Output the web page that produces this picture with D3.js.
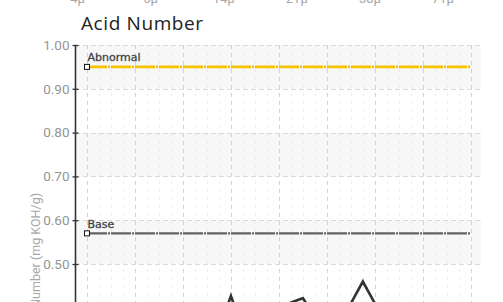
<!DOCTYPE html>
<html><head><meta charset="utf-8">
<script src="https://cdn.jsdelivr.net/npm/d3@7"></script>
<style>body{margin:0;background:#fff;overflow:hidden}svg{display:block}</style>
</head><body>
<svg id="c" width="503" height="302"></svg>
<script>
// Data
const prevChartLabels = ["4μ","6μ","14μ","21μ","38μ","71μ"];
const chartTitle = "Acid Number";
const yAxisTitle = "Acid Number (mg KOH/g)";
const yTicks = [1.00,0.90,0.80,0.70,0.60,0.50,0.40,0.30];
const sampleIndex = [0,1,2,3,4,5,6,7,8,9,10,11,12,13,14,15,16,17,18,19,20,21,22,23,24,25,26,27,28,29,30,31,32];
const acidValues = [0.33,0.31,0.34,0.32,0.30,0.33,0.35,0.32,0.34,0.31,0.33,0.35,0.427,0.35,0.34,0.36,0.37,0.412,0.422,0.38,0.35,0.36,0.41,0.46,0.41,0.35,0.33,0.36,0.34,0.35,0.33,0.37,0.36];
const limitNames = ["Abnormal","Base"];
const limitValues = [0.95,0.57];
const limitColors = ["#f5c200","#636363"];

const svg = d3.select("#c");
const x = d3.scaleLinear().domain([-1, 32.85]).range([75, 481]);
const y = d3.scaleLinear().domain([0.3, 1.0]).range([45 + 0.7*438, 45]);

// labels of the chart above (clipped at the top edge, as in the reference)
const xPrev = d3.scalePoint().domain(prevChartLabels).range([77.5, 443]);
svg.append("g").selectAll("text").data(prevChartLabels).join("text")
  .attr("x", d => xPrev(d)).attr("y", 2.5).attr("text-anchor","middle")
  .attr("font-family","Roboto, sans-serif").attr("font-size", 13).attr("fill","#a8a8a8")
  .text(d => d);

// title
svg.append("text").attr("x", 81).attr("y", 29.5)
  .attr("font-family","'Open Sans', sans-serif").attr("font-size", 19)
  .attr("letter-spacing", 0.6).attr("fill","#222").text(chartTitle);

// bands
const bandStarts = yTicks.filter((d,i) => i % 2 === 1);
svg.append("g").selectAll("rect").data(bandStarts).join("rect")
  .attr("x", x.range()[0]).attr("width", x.range()[1]-x.range()[0])
  .attr("y", d => y(d+0.1)).attr("height", d => y(d)-y(d+0.1))
  .attr("fill","#f7f7f7");

// minor vertical grid
const minorIdx = sampleIndex.filter(d => d % 4 !== 0);
svg.append("g").selectAll("line").data(minorIdx).join("line")
  .attr("x1", d => Math.round(x(d))+0.5).attr("x2", d => Math.round(x(d))+0.5)
  .attr("y1", y(1)).attr("y2", 302)
  .attr("stroke","#ececec").attr("stroke-dasharray","3,5");

// major vertical grid
const majorIdx = sampleIndex.filter(d => d % 4 === 0);
svg.append("g").selectAll("line").data(majorIdx).join("line")
  .attr("x1", d => Math.round(x(d))+0.5).attr("x2", d => Math.round(x(d))+0.5)
  .attr("y1", y(1)).attr("y2", 302)
  .attr("stroke","#d2d2d2").attr("stroke-dasharray","4,4");

// horizontal grid
svg.append("g").selectAll("line").data(yTicks).join("line")
  .attr("x1", x.range()[0]).attr("x2", x.range()[1])
  .attr("y1", d => Math.round(y(d))+0.5).attr("y2", d => Math.round(y(d))+0.5)
  .attr("stroke","#dadada").attr("stroke-dasharray","5,3");

// y axis
const yAxis = d3.axisLeft(y).tickValues(yTicks).tickFormat(d3.format(".2f")).tickSize(3).tickPadding(3);
const gy = svg.append("g").attr("transform","translate(75.5,0)").call(yAxis);
gy.select(".domain").attr("stroke","#333").attr("stroke-width",1.6).attr("d", `M0,${y(1)}V320`);
gy.selectAll(".tick line").attr("stroke","#333").attr("stroke-width",1.3).attr("x1",3).attr("x2",-3);
gy.selectAll(".tick text").attr("fill","#959595").attr("font-family","Roboto, sans-serif").attr("font-size",13.5);

// y axis title
svg.append("text").attr("transform","translate(40,193) rotate(-90)")
  .attr("text-anchor","end").attr("font-family","Roboto, sans-serif").attr("font-size",12.5)
  .attr("fill","#a8a8a8").text(yAxisTitle);

// limit lines
const first = sampleIndex[0], last = sampleIndex[sampleIndex.length-1];
limitNames.forEach((name, i) => {
  const v = limitValues[i];
  svg.append("line").attr("x1", x(first)).attr("x2", x(last))
    .attr("y1", y(v)).attr("y2", y(v))
    .attr("stroke", limitColors[i]).attr("stroke-width", i===0 ? 2.6 : 2.2)
    .attr("stroke-dasharray","20,1,2,1");
  svg.append("rect").attr("x", x(first)-2.5).attr("y", y(v)-2.5).attr("width",5).attr("height",5)
    .attr("fill","#fff").attr("stroke","#111").attr("stroke-width",1);
  svg.append("text").attr("x", x(first)+0.5).attr("y", y(v)-5.5)
    .attr("font-family","'DejaVu Sans', sans-serif").attr("font-size",11)
    .attr("fill","#1a1a1a").attr("stroke","#666").attr("stroke-width",0.35).text(name);
});

// acid number series
const line = d3.line().x((d,i) => x(sampleIndex[i])).y(d => y(d));
svg.append("path").datum(acidValues).attr("d", line)
  .attr("fill","none").attr("stroke","#333").attr("stroke-width",2.6).attr("stroke-linejoin","miter");
</script>
</body></html>
